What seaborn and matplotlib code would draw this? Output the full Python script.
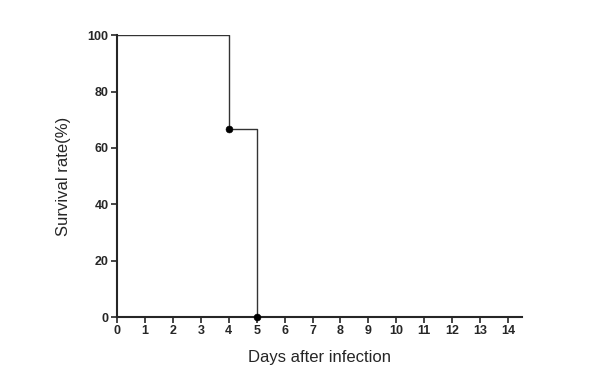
import matplotlib
matplotlib.use("Agg")
import matplotlib.pyplot as plt
import seaborn as sns
import pandas as pd

days = [0, 4, 5]
survival = [100, 66.7, 0]
marker_days = [4, 5]
marker_survival = [66.7, 0]
xticks = list(range(0, 15))
yticks = [0, 20, 40, 60, 80, 100]

sns.set_style("ticks")
plt.rcParams['font.family'] = ['Liberation Sans', 'DejaVu Sans']

fig = plt.figure(figsize=(6, 3.82), dpi=100)
ax = fig.add_axes([0.195, 0.170, 0.675, 0.738])

df = pd.DataFrame({"day": days, "surv": survival})
sns.lineplot(data=df, x="day", y="surv", drawstyle="steps-post", color="#333333",
             linewidth=1.0, ax=ax)
mdf = pd.DataFrame({"day": marker_days, "surv": marker_survival})
sns.scatterplot(data=mdf, x="day", y="surv", color="black", s=25, zorder=5,
                edgecolor="black", ax=ax, clip_on=False)

ax.set_xlim(0, 14.5)
ax.set_ylim(0, 100)
ax.set_xticks(xticks)
ax.set_yticks(yticks)
ax.set_xticklabels([str(t) for t in xticks], fontweight="bold", fontsize=9)
ax.set_yticklabels([str(t) for t in yticks], fontweight="bold", fontsize=9)
ax.set_xlabel("Days after infection", fontsize=12, labelpad=9)
ax.set_ylabel("Survival rate(%)", fontsize=12, labelpad=12)
sns.despine(ax=ax)
for s in ["left", "bottom"]:
    ax.spines[s].set_linewidth(1.5)
ax.tick_params(width=1.2, length=4, pad=2)

fig.savefig("out.png", dpi=100)
